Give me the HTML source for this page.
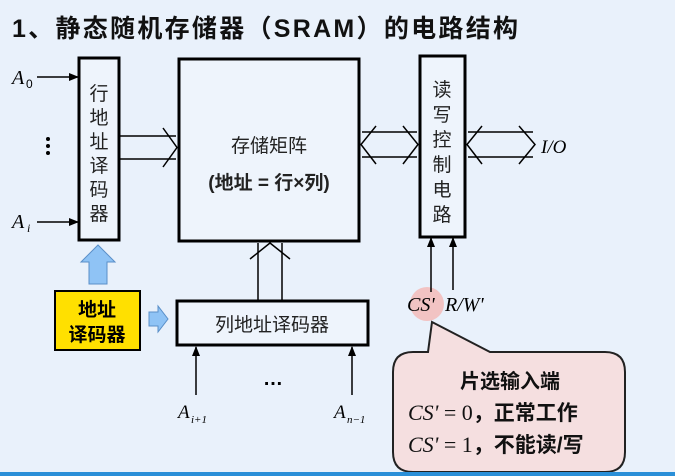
<!DOCTYPE html>
<html><head><meta charset="utf-8"><style>
body{margin:0;width:675px;height:476px;overflow:hidden;background:#e9f1fb;}
svg{display:block}
text{font-family:"Liberation Sans","Noto Sans CJK SC",sans-serif;}
.it{font-family:"Liberation Serif",serif;font-style:italic;}
</style></head><body>
<svg width="675" height="476" viewBox="0 0 675 476">
<defs><marker id="ah" markerWidth="10" markerHeight="8" refX="9" refY="4" orient="auto" markerUnits="userSpaceOnUse"><path d="M0,0 L10,4 L0,8 Z" fill="#000"/></marker></defs>
<text x="12" y="37" font-size="25" font-weight="bold" fill="#111" textLength="506" lengthAdjust="spacing">1、静态随机存储器（SRAM）的电路结构</text>
<!-- row decoder -->
<rect x="79" y="58" width="40" height="182" fill="#eef4fc" stroke="#000" stroke-width="3"/>
<text font-size="19" fill="#222" text-anchor="middle"><tspan x="99" y="100">行</tspan><tspan x="99" y="124">地</tspan><tspan x="99" y="148">址</tspan><tspan x="99" y="172">译</tspan><tspan x="99" y="196">码</tspan><tspan x="99" y="220">器</tspan></text>
<line x1="37" y1="77" x2="78" y2="77" stroke="#000" stroke-width="1.5" marker-end="url(#ah)"/>
<line x1="37" y1="222" x2="78" y2="222" stroke="#000" stroke-width="1.5" marker-end="url(#ah)"/>
<text class="it" x="12" y="84" font-size="20">A</text><text x="26" y="88" font-size="12" font-family="Liberation Serif">0</text>
<text class="it" x="12" y="228" font-size="20">A</text><text class="it" x="27" y="232" font-size="12">i</text>
<circle cx="48" cy="139" r="2" fill="#000"/><circle cx="48" cy="146" r="2" fill="#000"/><circle cx="48" cy="153" r="2" fill="#000"/>
<!-- matrix -->
<rect x="179" y="59" width="180" height="182" fill="#eef4fc" stroke="#000" stroke-width="3"/>
<text x="269" y="152" font-size="19" text-anchor="middle" fill="#222">存储矩阵</text>
<text x="269" y="189" font-size="19" text-anchor="middle" font-weight="bold" fill="#222">(地址 = 行×列)</text>
<g stroke="#000" stroke-width="1.5" fill="none">
<line x1="120" y1="136" x2="176" y2="136"/><line x1="120" y1="159" x2="176" y2="159"/>
<polyline points="163,128 177,147.5 163,167"/>
<line x1="258" y1="243" x2="258" y2="300"/><line x1="282" y1="243" x2="282" y2="300"/>
<polyline points="250,259 270,243 290,259"/>
<line x1="362" y1="132" x2="417" y2="132"/><line x1="362" y1="157" x2="417" y2="157"/>
<polyline points="376,126 361,144.5 376,164"/><polyline points="403,126 418,144.5 403,164"/>
<line x1="468" y1="132" x2="533" y2="132"/><line x1="468" y1="157" x2="533" y2="157"/>
<polyline points="482,126 467,144.5 482,164"/><polyline points="519,126 535,144.5 519,164"/>
</g>
<text class="it" x="541" y="153" font-size="19">I/O</text>
<rect x="420" y="56" width="45" height="181" fill="#eef4fc" stroke="#000" stroke-width="3"/>
<text font-size="19" fill="#222" text-anchor="middle"><tspan x="442" y="96">读</tspan><tspan x="442" y="121">写</tspan><tspan x="442" y="146">控</tspan><tspan x="442" y="171">制</tspan><tspan x="442" y="196">电</tspan><tspan x="442" y="221">路</tspan></text>
<circle cx="427" cy="304" r="17" fill="#f2c3c3"/>
<line x1="431" y1="292" x2="431" y2="238" stroke="#000" stroke-width="1.5" marker-end="url(#ah)"/>
<line x1="453" y1="290" x2="453" y2="238" stroke="#000" stroke-width="1.5" marker-end="url(#ah)"/>
<text class="it" x="407" y="311" font-size="20">CS'</text>
<text class="it" x="445" y="311" font-size="20">R/W'</text>
<path d="M413,352 L428,352 L432,322 L490,352 L605,352 Q625,352 625,372 L625,452 Q625,472 605,472 L413,472 Q393,472 393,452 L393,372 Q393,352 413,352 Z" fill="#f5dfe0" stroke="#222" stroke-width="2"/>
<text x="510" y="388" font-size="20" font-weight="bold" text-anchor="middle" fill="#111">片选输入端</text>
<text x="408" y="420" font-size="21" fill="#111"><tspan class="it" font-size="22">CS'</tspan><tspan font-family="Liberation Serif" font-size="22"> = 0</tspan><tspan font-weight="bold">，正常工作</tspan></text>
<text x="408" y="452" font-size="21" fill="#111"><tspan class="it" font-size="22">CS'</tspan><tspan font-family="Liberation Serif" font-size="22"> = 1</tspan><tspan font-weight="bold">，不能读/写</tspan></text>
<path d="M89,284 L89,262 L81,262 L98,245 L115,262 L107,262 L107,284 Z" fill="#8fc3f5" stroke="#5a8fc8" stroke-width="1"/>
<rect x="55" y="291" width="85" height="59" fill="#ffe000" stroke="#000" stroke-width="2"/>
<text x="97" y="316" font-size="19" font-weight="bold" text-anchor="middle">地址</text>
<text x="97" y="341" font-size="19" font-weight="bold" text-anchor="middle">译码器</text>
<path d="M149,312 L158,312 L158,306 L168,319 L158,332 L158,326 L149,326 Z" fill="#8fc3f5" stroke="#5a8fc8" stroke-width="1"/>
<rect x="177" y="301" width="191" height="44" fill="#eef4fc" stroke="#000" stroke-width="3"/>
<text x="272" y="331" font-size="19" text-anchor="middle" fill="#222">列地址译码器</text>
<line x1="196" y1="395" x2="196" y2="347" stroke="#000" stroke-width="1.5" marker-end="url(#ah)"/>
<line x1="352" y1="395" x2="352" y2="347" stroke="#000" stroke-width="1.5" marker-end="url(#ah)"/>
<text x="263" y="385" font-size="20" font-weight="bold">…</text>
<text class="it" x="178" y="418" font-size="19">A</text><text class="it" x="191" y="423" font-size="11">i+1</text>
<text class="it" x="334" y="418" font-size="19">A</text><text class="it" x="347" y="423" font-size="11">n−1</text>
<rect x="0" y="472" width="675" height="4" fill="#2a8fd8"/>
</svg>
</body></html>
